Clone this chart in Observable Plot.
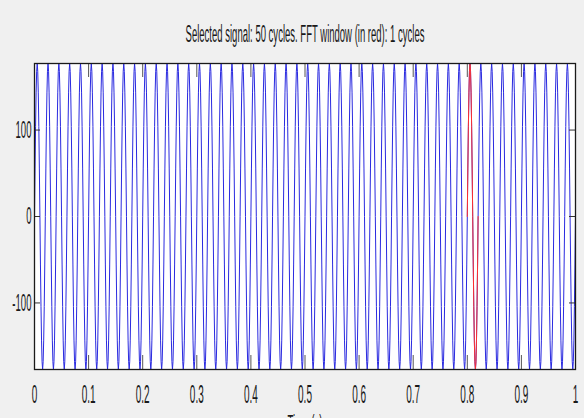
<!DOCTYPE html>
<html><head><meta charset="utf-8">
<script src="https://cdn.jsdelivr.net/npm/d3@7"></script>
<script src="https://cdn.jsdelivr.net/npm/@observablehq/plot@0.6"></script>
<style>
html,body{margin:0;padding:0;background:#f0f0f0;}
#chart{width:584px;height:418px;overflow:hidden;}
</style>
</head><body><div id="chart"></div>
<script>
const titleText = "Selected signal: 50 cycles. FFT window (in red): 1 cycles";
const xLabel = "Time (s)";
const xTicks = [0, 0.1, 0.2, 0.3, 0.4, 0.5, 0.6, 0.7, 0.8, 0.9, 1];
const xTickLabels = ["0", "0.1", "0.2", "0.3", "0.4", "0.5", "0.6", "0.7", "0.8", "0.9", "1"];
const yTicks = [-100, 0, 100];
const yTickLabels = ["-100", "0", "100"];
const yDomain = [-177, 177];
// one cycle of the signal (samples within a 0.02 s period)
const cycleSamples = [0, 55, 104, 143, 168, 177, 168, 143, 104, 55, 0, -55, -104, -143, -168, -177, -168, -143, -104, -55];
const cycleCount = 50;
const cyclePeriod = 0.02;
const fftWindow = [0.80, 0.82];

const signal = [];
for (let c = 0; c < cycleCount; c++) {
  for (let k = 0; k < cycleSamples.length; k++) {
    signal.push({t: c * cyclePeriod + k * cyclePeriod / cycleSamples.length, v: cycleSamples[k]});
  }
}
signal.push({t: cycleCount * cyclePeriod, v: cycleSamples[0]});
const windowed = signal.filter(d => d.t >= fftWindow[0] - 1e-9 && d.t <= fftWindow[1] + 1e-9);

const W = 584, H = 418, mL = 34, mR = 9, mT = 63, mB = 49;
const fw = W - mL - mR, fh = H - mT - mB;
const xTickLen = 14, yTickLen = 6;

const plot = Plot.plot({
  width: W, height: H,
  marginLeft: mL, marginRight: mR, marginTop: mT, marginBottom: mB,
  style: {background: "#f0f0f0", fontFamily: "'Liberation Sans', Arial, sans-serif", fontSize: "24px", color: "#1a1a1a"},
  x: {domain: [0, 1]},
  y: {domain: yDomain},
  marks: [
    Plot.frame({fill: "white"}),
    Plot.line(signal, {x: "t", y: "v", stroke: "#2a2ae0", strokeWidth: 1}),
    Plot.line(windowed, {x: "t", y: "v", stroke: "#ff3030", strokeWidth: 1}),
    Plot.ruleX(xTicks, {x: d => d, insetTop: fh - xTickLen, stroke: "#555"}),
    Plot.ruleX(xTicks, {x: d => d, insetBottom: fh - xTickLen, stroke: "#555"}),
    Plot.ruleY(yTicks, {y: d => d, insetRight: fw - yTickLen, stroke: "#333"}),
    Plot.ruleY(yTicks, {y: d => d, insetLeft: fw - yTickLen, stroke: "#333"}),
    Plot.frame({stroke: "#1a1a1a", strokeWidth: 1.3}),
    Plot.axisX({ticks: xTicks, tickFormat: d => xTickLabels[xTicks.indexOf(d)], tickSize: 0, tickPadding: 16, label: null, fontSize: 25}),
    Plot.axisY({ticks: yTicks, tickFormat: d => yTickLabels[yTicks.indexOf(d)], tickSize: 0, tickPadding: 3, label: null, fontSize: 24}),
    Plot.text([titleText], {text: d => d, frameAnchor: "top", lineAnchor: "bottom", dy: -22, fontSize: 24}),
    Plot.text([xLabel], {text: d => d, frameAnchor: "bottom", lineAnchor: "top", dy: 45, fontSize: 24})
  ]
});
document.getElementById("chart").appendChild(plot);

// condense the text horizontally, as in the reference
d3.select(plot).selectAll("text").each(function() {
  const el = this;
  const bb = el.getBBox();
  const anchor = getComputedStyle(el).textAnchor;
  let ax = bb.x + bb.width / 2;
  if (anchor === "end") ax = bb.x + bb.width;
  else if (anchor === "start") ax = bb.x;
  let s = 0.4;
  if (el.textContent === titleText) s = 239 / bb.width;
  const t = el.getAttribute("transform") || "";
  el.setAttribute("transform", `${t} translate(${ax},0) scale(${s},1) translate(${-ax},0)`);
});
</script>
</body></html>
